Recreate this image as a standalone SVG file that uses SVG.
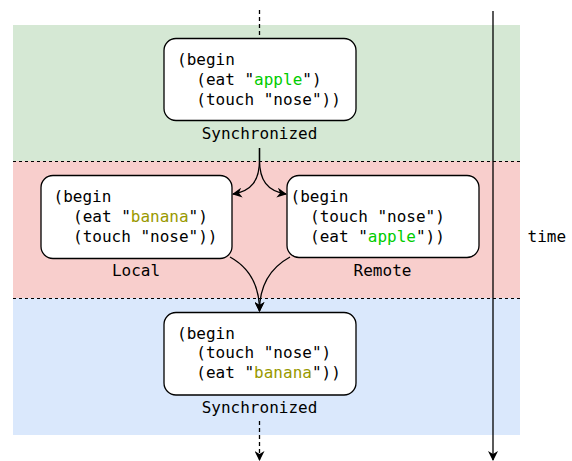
<svg xmlns="http://www.w3.org/2000/svg" width="572" height="461" viewBox="0 0 572 461">
<defs>
<marker id="arr" viewBox="0 0 10 10" refX="9" refY="5" markerWidth="10" markerHeight="10" markerUnits="userSpaceOnUse" orient="auto">
<path d="M0,0 L10,5 L0,10 L3,5 Z" fill="#000"/>
</marker>
<style>
.band-line{stroke:#000;stroke-width:1;stroke-dasharray:3 3;fill:none}
.box{fill:#fff;stroke:#000;stroke-width:1.3}
.code{font-family:"DejaVu Sans Mono","Liberation Mono",monospace;font-size:16px;fill:#000}
.lbl{font-family:"DejaVu Sans Mono","Liberation Mono",monospace;font-size:16px;fill:#000}
.apple{fill:#00CC00}
.banana{fill:#999900}
.conn{fill:none;stroke:#000;stroke-width:1.3}
.dash{stroke-dasharray:4 3}
</style>
</defs>
<g id="bands">
<rect x="13" y="25" width="507" height="136" fill="#d5e8d4"/>
<rect x="13" y="161" width="507" height="137" fill="#f8cecc"/>
<rect x="13" y="298" width="507" height="137" fill="#dae8fc"/>
<line class="band-line" x1="13" y1="161.5" x2="520" y2="161.5"/>
<line class="band-line" x1="13" y1="298.5" x2="520" y2="298.5"/>
</g>
<g id="connectors">
<line class="conn dash" x1="259.5" y1="10" x2="259.5" y2="38"/>
<path class="conn" d="M259.5,148 L259.5,160 C259.5,180 252,191 233,194" marker-end="url(#arr)"/>
<path class="conn" d="M259.5,148 L259.5,160 C259.5,180 267,191 286,194" marker-end="url(#arr)"/>
<path class="conn" d="M230,257 C250,268 259.5,285 259.5,311" marker-end="url(#arr)"/>
<path class="conn" d="M290,257 C270,268 259.5,285 259.5,311" marker-end="url(#arr)"/>
<line class="conn dash" x1="259.5" y1="421" x2="259.5" y2="460" marker-end="url(#arr)"/>
<line class="conn" x1="493" y1="11" x2="493" y2="460" marker-end="url(#arr)"/>
</g>
<g id="sync-top">
<rect class="box" x="164" y="38.5" width="192" height="82" rx="12"/>
<text class="code"><tspan x="177" y="65">(begin</tspan><tspan x="196.3" y="85">(eat "<tspan class="apple">apple</tspan>")</tspan><tspan x="196.3" y="104.5">(touch "nose"))</tspan></text>
<text class="lbl" x="259.5" y="139" text-anchor="middle">Synchronized</text>
</g>
<g id="local">
<rect class="box" x="41" y="175.5" width="191" height="83" rx="12"/>
<text class="code"><tspan x="53.5" y="202">(begin</tspan><tspan x="73" y="221.5">(eat "<tspan class="banana">banana</tspan>")</tspan><tspan x="73" y="241.5">(touch "nose"))</tspan></text>
<text class="lbl" x="136" y="276" text-anchor="middle">Local</text>
</g>
<g id="remote">
<rect class="box" x="287" y="175.5" width="192" height="82" rx="12"/>
<text class="code"><tspan x="290.5" y="202">(begin</tspan><tspan x="310" y="221.5">(touch "nose")</tspan><tspan x="310" y="241.5">(eat "<tspan class="apple">apple</tspan>"))</tspan></text>
<text class="lbl" x="382.5" y="276" text-anchor="middle">Remote</text>
</g>
<g id="sync-bottom">
<rect class="box" x="164" y="312.5" width="192" height="82.5" rx="12"/>
<text class="code"><tspan x="177" y="338.5">(begin</tspan><tspan x="196.3" y="358">(touch "nose")</tspan><tspan x="196.3" y="378">(eat "<tspan class="banana">banana</tspan>"))</tspan></text>
<text class="lbl" x="259.5" y="413" text-anchor="middle">Synchronized</text>
</g>
<g id="time-label">
<text class="lbl" x="527.5" y="242">time</text>
</g>
</svg>
